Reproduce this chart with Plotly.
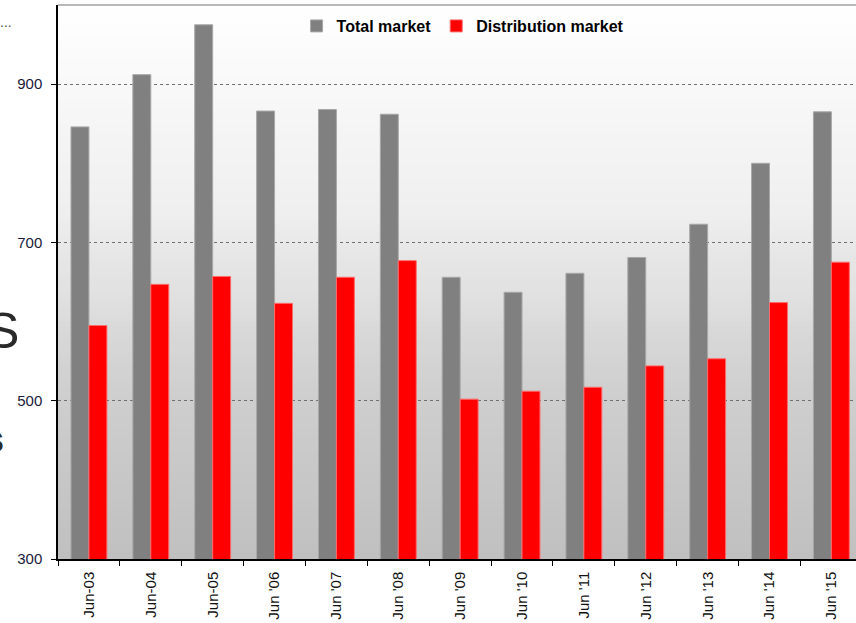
import numpy as np
import plotly.graph_objects as go

categories = ["Jun-03", "Jun-04", "Jun-05", "Jun '06", "Jun '07", "Jun '08", "Jun '09",
              "Jun '10", "Jun '11", "Jun '12", "Jun '13", "Jun '14", "Jun '15"]
total_market = [846, 912, 975, 866, 868, 862, 656, 637, 661, 681, 723, 800, 865]
distribution_market = [595, 647, 657, 623, 656, 677, 502, 512, 517, 544, 553, 624, 675]
y_ticks = [300, 500, 700, 900]

W, H = 856, 623
ML, MR, MT, MB = 58, 0, 5, 64
plot_h = H - MT - MB

fig = go.Figure()
fig.add_trace(go.Bar(name="Total market", x=categories, y=total_market,
                     marker=dict(color="#808080", line=dict(color="#a8a8a8", width=1))))
fig.add_trace(go.Bar(name="Distribution market", x=categories, y=distribution_market,
                     marker=dict(color="#ff0000", line=dict(color="#ff6a6a", width=1))))

# gradient background of the plot area (bands)
ctrl_y = np.array([0, 125, 210, 255, 295, 335, 395, 554])   # px from top of plot area
ctrl_g = np.array([255, 245, 239, 230, 224, 215, 206, 192])
n = 110
shapes = []
for i in range(n):
    t0, t1 = i / n, (i + 1) / n
    g = int(round(np.interp((t0 + t1) / 2 * plot_h, ctrl_y, ctrl_g)))
    shapes.append(dict(type="rect", xref="x domain", yref="y domain",
                       x0=0, x1=1, y0=1 - t1, y1=1 - t0 + 0.002,
                       fillcolor=f"rgb({g},{g},{g})", line=dict(width=0), layer="below"))
shapes.append(dict(type="line", xref="x domain", yref="y domain", x0=0, x1=1, y0=1, y1=1,
                   line=dict(color="#a0a0a0", width=1.5)))

n_vis = (W - ML) / 61.87
fig.update_layout(
    width=W, height=H,
    margin=dict(l=ML, r=MR, t=MT, b=MB, autoexpand=False),
    paper_bgcolor="white", plot_bgcolor="rgba(0,0,0,0)",
    barmode="group", bargap=0.42, bargroupgap=0,
    shapes=shapes,
    font=dict(family="Liberation Sans, Arial, sans-serif", color="#1a1a2a"),
    legend=dict(orientation="h", x=0.507, xanchor="center", y=1 - 4 / plot_h, yanchor="top",
                font=dict(size=16, color="black", family="Liberation Sans, Arial, sans-serif", weight="bold"),
                bgcolor="rgba(0,0,0,0)", itemwidth=30, traceorder="normal"),
    showlegend=True,
)
fig.update_xaxes(range=[-0.5, -0.5 + n_vis], tickson="boundaries", ticks="outside", ticklen=5,
                 tickcolor="black", showline=True, linecolor="black", linewidth=1.5,
                 tickangle=-90, tickfont=dict(size=15, color="#111"), showgrid=False,
                 ticklabelstandoff=5, automargin=False)
fig.update_yaxes(range=[300, 1000], tickvals=y_ticks, ticks="outside", ticklen=5, tickcolor="black",
                 showline=True, linecolor="black", linewidth=1.5, tickfont=dict(size=15, color="#1a1a3a"),
                 showgrid=True, gridcolor="#707070", gridwidth=1, griddash="dot", zeroline=False,
                 ticklabelstandoff=6, automargin=False)

# cut-off text fragments on the left edge of the slide
fig.add_annotation(xref="paper", yref="paper", x=-(ML - 21) / (W - ML), y=1 - (331 - MT) / plot_h,
                   xanchor="right", yanchor="middle", text="S", showarrow=False,
                   font=dict(size=50, color="#2a2a2a", family="Liberation Sans, Arial, sans-serif"))
fig.add_annotation(xref="paper", yref="paper", x=-(ML - 6) / (W - ML), y=1 - (440 - MT) / plot_h,
                   xanchor="right", yanchor="middle", text="<b>s</b>", showarrow=False,
                   font=dict(size=36, color="#2a2a2a", family="Liberation Sans, Arial, sans-serif"))
fig.add_annotation(xref="paper", yref="paper", x=-(ML - 14) / (W - ML), y=1 - (22 - MT) / plot_h,
                   xanchor="right", yanchor="middle", text="...", showarrow=False,
                   font=dict(size=14, color="#555", family="Liberation Sans, Arial, sans-serif"))

fig.write_html("out.html", config={"displayModeBar": False},
               post_script="document.body.style.margin='0';")
